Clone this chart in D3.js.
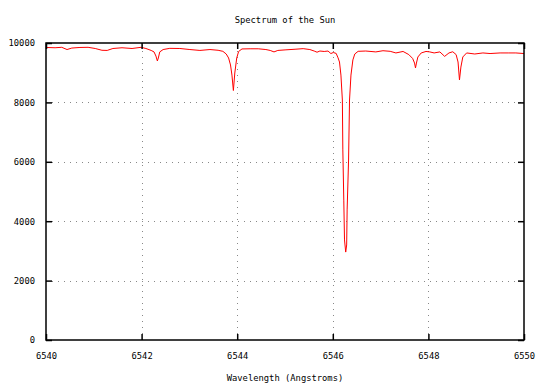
<!DOCTYPE html>
<html>
<head>
<meta charset="utf-8">
<script src="https://cdn.jsdelivr.net/npm/d3@7"></script>
<style>
  body { margin: 0; background: #fff; }
  text { font-family: 'DejaVu Sans Mono', monospace; font-size: 8.8px; fill: #000; }
</style>
</head>
<body>
<div id="chart"></div>
<script>
// wavelength (Angstroms) and intensity
const wavelength = [
  6540.00, 6540.19, 6540.33, 6540.44, 6540.54, 6540.71, 6540.88, 6541.03, 6541.17, 6541.28,
  6541.40, 6541.59, 6541.80, 6541.99, 6542.09, 6542.20, 6542.26, 6542.30, 6542.33, 6542.35,
  6542.38, 6542.45, 6542.59, 6542.80, 6543.01, 6543.22, 6543.43, 6543.60, 6543.70, 6543.77,
  6543.82, 6543.86, 6543.89, 6543.92, 6543.95, 6543.99, 6544.03, 6544.10, 6544.27, 6544.44,
  6544.60, 6544.69, 6544.77, 6544.85, 6545.02, 6545.21, 6545.38, 6545.52, 6545.61, 6545.67,
  6545.73, 6545.82, 6545.90, 6545.96, 6546.01, 6546.07, 6546.11, 6546.14, 6546.17, 6546.20,
  6546.21, 6546.23, 6546.245, 6546.27, 6546.29, 6546.30, 6546.33, 6546.35, 6546.38, 6546.42,
  6546.46, 6546.53, 6546.69, 6546.90, 6547.05, 6547.20, 6547.32, 6547.47, 6547.59, 6547.67,
  6547.71, 6547.73, 6547.75, 6547.78, 6547.85, 6547.95, 6548.03, 6548.12, 6548.24, 6548.34,
  6548.43, 6548.51, 6548.58, 6548.62, 6548.65, 6548.68, 6548.72, 6548.80, 6548.97, 6549.14,
  6549.29, 6549.50, 6549.67, 6549.83, 6550.00
]
const intensity = [
  9850, 9840, 9855, 9780, 9830, 9850, 9855, 9815, 9755, 9750,
  9815, 9840, 9815, 9855, 9815, 9750, 9700, 9560, 9395, 9495,
  9700, 9780, 9820, 9815, 9780, 9750, 9780, 9755, 9720, 9630,
  9495, 9260, 8920, 8400, 8990, 9495, 9715, 9800, 9805, 9805,
  9780, 9750, 9700, 9750, 9770, 9790, 9810, 9780, 9730, 9690,
  9730, 9715, 9730, 9645, 9680, 9650, 9500, 9360, 8920, 8080,
  6400, 4710, 3370, 2960, 3200, 4380, 6060, 8080, 8920, 9430,
  9630, 9720, 9730, 9700, 9740, 9720, 9665, 9715, 9610, 9480,
  9325, 9160, 9325, 9530, 9665, 9715, 9700, 9665, 9700, 9550,
  9665, 9705, 9610, 9360, 8755, 9190, 9530, 9665, 9630, 9665,
  9645, 9665, 9665, 9665, 9645
]
const xTicks = [6540, 6542, 6544, 6546, 6548, 6550]
const yTicks = [0, 2000, 4000, 6000, 8000, 10000]

const width = 536
const height = 383
const margin = { top: 43, right: 12, bottom: 43, left: 46 }

const svg = d3.select('#chart').append('svg')
  .attr('width', width)
  .attr('height', height)

const xScale = d3.scaleLinear()
  .domain([6540, 6550])
  .range([margin.left, width - margin.right])

const yScale = d3.scaleLinear()
  .domain([0, 10000])
  .range([height - margin.bottom, margin.top])

// dotted grid
const grid = svg.append('g')
  .attr('stroke', '#888')
  .attr('stroke-dasharray', '1,5')
  .attr('stroke-width', 1)
grid.selectAll('.vgrid')
  .data(xTicks.slice(1, -1))
  .enter().append('line')
  .attr('x1', d => Math.round(xScale(d)) + 0.5)
  .attr('x2', d => Math.round(xScale(d)) + 0.5)
  .attr('y1', yScale(0))
  .attr('y2', yScale(10000))
grid.selectAll('.hgrid')
  .data(yTicks.slice(1, -1))
  .enter().append('line')
  .attr('x1', xScale(6540))
  .attr('x2', xScale(6550))
  .attr('y1', d => Math.round(yScale(d)) + 0.5)
  .attr('y2', d => Math.round(yScale(d)) + 0.5)

// spectrum
const line = d3.line()
  .x((d, i) => xScale(wavelength[i]))
  .y(d => yScale(d))
svg.append('path')
  .datum(intensity)
  .attr('fill', 'none')
  .attr('stroke', '#ff0000')
  .attr('stroke-width', 1)
  .attr('d', line)

// axes with inward ticks
const tickLen = 6
const bottomAxis = svg.append('g')
  .attr('transform', `translate(0,${yScale(0)})`)
  .call(d3.axisBottom(xScale).tickValues(xTicks).tickSize(-tickLen).tickPadding(13).tickFormat(d3.format('d')))
const topAxis = svg.append('g')
  .attr('transform', `translate(0,${yScale(10000)})`)
  .call(d3.axisTop(xScale).tickValues(xTicks).tickSize(-tickLen).tickFormat(''))
const leftAxis = svg.append('g')
  .attr('transform', `translate(${xScale(6540)},0)`)
  .call(d3.axisLeft(yScale).tickValues(yTicks).tickSize(-tickLen).tickPadding(11).tickFormat(d3.format('d')))
const rightAxis = svg.append('g')
  .attr('transform', `translate(${xScale(6550)},0)`)
  .call(d3.axisRight(yScale).tickValues(yTicks).tickSize(-tickLen).tickFormat(''))

for (const ax of [bottomAxis, topAxis, leftAxis, rightAxis]) {
  ax.select('.domain').remove()
  ax.selectAll('line').attr('stroke', '#000').attr('stroke-width', 1.5)
  ax.selectAll('text').style('font-family', "'DejaVu Sans Mono', monospace").style('font-size', '8.8px')
}

// frame
svg.append('rect')
  .attr('x', xScale(6540))
  .attr('y', yScale(10000))
  .attr('width', xScale(6550) - xScale(6540))
  .attr('height', yScale(0) - yScale(10000))
  .attr('fill', 'none')
  .attr('stroke', '#000')
  .attr('stroke-width', 1.5)

// title and axis label
svg.append('text')
  .attr('x', (xScale(6540) + xScale(6550)) / 2)
  .attr('y', 23)
  .attr('text-anchor', 'middle')
  .text('Spectrum of the Sun')

svg.append('text')
  .attr('x', (xScale(6540) + xScale(6550)) / 2)
  .attr('y', 381)
  .attr('text-anchor', 'middle')
  .text('Wavelength (Angstroms)')
</script>
</body>
</html>
